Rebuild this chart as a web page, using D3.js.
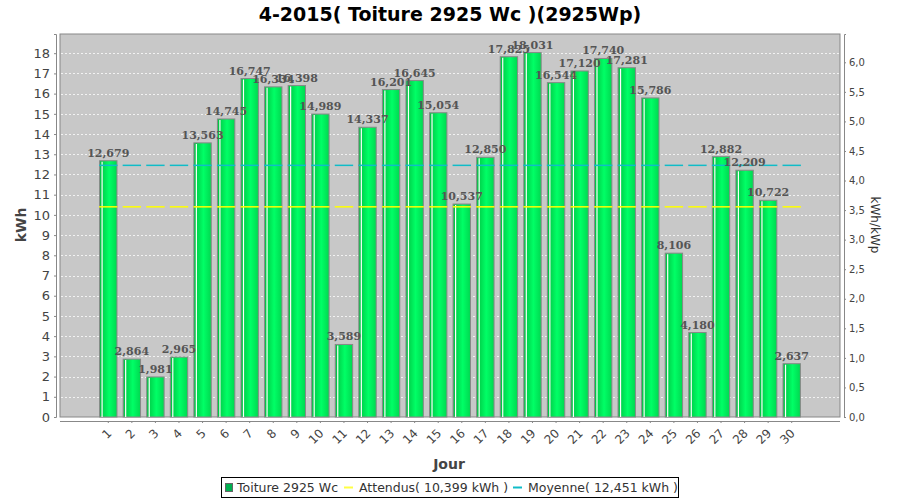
<!DOCTYPE html>
<html><head><meta charset="utf-8">
<script src="https://cdn.jsdelivr.net/npm/d3@7"></script>
<style>body{margin:0;background:#fff}svg{display:block}</style>
</head><body>
<svg id="c" width="900" height="500"></svg>
<script>
const days = d3.range(1, 31).map(String);
const energy = [12.679, 2.864, 1.981, 2.965, 13.563, 14.745, 16.747, 16.334, 16.398, 14.989,
  3.589, 14.337, 16.201, 16.645, 15.054, 10.537, 12.850, 17.825, 18.031, 16.544,
  17.120, 17.740, 17.281, 15.786, 8.106, 4.180, 12.882, 12.209, 10.722, 2.637];
const expected = 10.399;
const average = 12.451;
const peakKWp = 2.925;
const leftTicks = d3.range(0, 19);
const rightTicks = d3.range(0, 13).map(i => i * 0.5);
const title = "4-2015( Toiture 2925 Wc )(2925Wp)";
const legendLabels = ["Toiture 2925 Wc", "Attendus( 10,399 kWh )", "Moyenne( 12,451 kWh )"];

const svg = d3.select("#c");
const P = {l: 60, r: 840, t: 34, b: 417};
const yMax = 18.95;
const x = d3.scaleBand().domain(days).range([P.l + 36.5, P.r - 36.5]).paddingInner(0.22).paddingOuter(0.11);
const y = d3.scaleLinear().domain([0, yMax]).range([P.b, P.t]);
const y2 = d3.scaleLinear().domain([0, yMax / peakKWp]).range([P.b, P.t]);
const comma = f => v => f(v).replace(".", ",");

const defs = svg.append("defs");
const g = defs.append("linearGradient").attr("id", "bg").attr("x1", 0).attr("x2", 1).attr("y1", 0).attr("y2", 0);
g.append("stop").attr("offset", "0%").attr("stop-color", "#00c040");
g.append("stop").attr("offset", "55%").attr("stop-color", "#00ff66");
g.append("stop").attr("offset", "100%").attr("stop-color", "#00d850");

// title
svg.append("text").attr("x", 450).attr("y", 21).attr("text-anchor", "middle")
  .attr("font-family", "DejaVu Sans").attr("font-weight", "bold").attr("font-size", 19).text(title);

// plot background
svg.append("rect").attr("x", P.l).attr("y", P.t).attr("width", P.r - P.l).attr("height", P.b - P.t)
  .attr("fill", "#c8c8c8").attr("stroke", "#888").attr("stroke-width", 1);

// gridlines
svg.append("g").selectAll("line").data(leftTicks.filter(d => d > 0)).join("line")
  .attr("x1", P.l + 1).attr("x2", P.r - 1).attr("y1", d => Math.round(y(d)) + 0.5).attr("y2", d => Math.round(y(d)) + 0.5)
  .attr("stroke", "#f2f2f2").attr("stroke-dasharray", "2,2").attr("stroke-width", 1);

// bars
const bars = svg.append("g");
bars.selectAll("rect").data(energy).join("rect")
  .attr("x", (d, i) => x(days[i]) + 0.5).attr("y", d => y(d)).attr("width", x.bandwidth() - 1).attr("height", d => P.b - y(d))
  .attr("fill", "url(#bg)").attr("stroke", "#888").attr("stroke-width", 1);
bars.selectAll("line").data(energy).join("line")
  .attr("x1", (d, i) => x(days[i]) + 3).attr("x2", (d, i) => x(days[i]) + 3)
  .attr("y1", d => y(d) + 1).attr("y2", P.b)
  .attr("stroke", "#ffffff").attr("stroke-width", 1.2);

// reference line segments (per bar)
const refs = [[expected, "#ffff00"], [average, "#10bcc8"]];
refs.forEach(([v, col]) => {
  svg.append("g").selectAll("line").data(days).join("line")
    .attr("x1", d => x(d)).attr("x2", d => x(d) + x.bandwidth())
    .attr("y1", y(v)).attr("y2", y(v)).attr("stroke", col).attr("stroke-width", 1.5);
});

// value labels
svg.append("g").selectAll("text").data(energy).join("text")
  .attr("x", (d, i) => x(days[i]) + x.bandwidth() / 2).attr("y", d => y(d) - 4)
  .attr("text-anchor", "middle").attr("font-family", "DejaVu Serif").attr("font-weight", "bold")
  .attr("font-size", 11).attr("fill", "#555").text(d => comma(d3.format(".3f"))(d));

// left axis
const la = svg.append("g").attr("transform", `translate(${P.l - 4},0)`)
  .call(d3.axisLeft(y).tickValues(leftTicks).tickSize(2).tickPadding(4).tickFormat(d3.format("d")));
la.selectAll("text").attr("font-family", "DejaVu Sans").attr("font-size", 13).attr("fill", "#444");
la.selectAll("line,path").attr("stroke", "#888");

// right axis
const ra = svg.append("g").attr("transform", `translate(${P.r + 4},0)`)
  .call(d3.axisRight(y2).tickValues(rightTicks).tickSize(2).tickPadding(3).tickFormat(comma(d3.format(".1f"))));
ra.selectAll("text").attr("font-family", "DejaVu Sans").attr("font-size", 10).attr("fill", "#444");
ra.selectAll("line,path").attr("stroke", "#888");

// bottom axis
const ba = svg.append("g").attr("transform", `translate(0,${P.b + 4})`)
  .call(d3.axisBottom(x).tickSize(2).tickSizeOuter(0));
ba.select("path").attr("d", `M${P.l},0.5H${P.r}`);
ba.selectAll("line,path").attr("stroke", "#888");
ba.selectAll("text").attr("font-family", "DejaVu Sans").attr("font-size", 12).attr("fill", "#444")
  .attr("text-anchor", "end").attr("dy", null).attr("y", null)
  .attr("transform", "translate(4,13) rotate(-45)");

// legend
const lg = svg.append("g");
lg.append("rect").attr("x", 221.5).attr("y", 477.5).attr("width", 457).attr("height", 20)
  .attr("fill", "#fff").attr("stroke", "#000");
const items = [{x: 225, type: "box", col: "#00b050"}, {x: 344, type: "line", col: "#ffff44"}, {x: 513, type: "line", col: "#10bcc8"}];
items.forEach((it, i) => {
  if (it.type === "box") lg.append("rect").attr("x", it.x + 0.5).attr("y", 483.5).attr("width", 7).attr("height", 8).attr("fill", it.col).attr("stroke", "#666");
  else lg.append("line").attr("x1", it.x).attr("x2", it.x + 9).attr("y1", 487.5).attr("y2", 487.5).attr("stroke", it.col).attr("stroke-width", 2);
  lg.append("text").attr("x", it.x + (it.type === "box" ? 12 : 15)).attr("y", 492)
    .attr("font-family", "DejaVu Sans").attr("font-size", 12.5).attr("fill", "#333").text(legendLabels[i]);
});

// axis titles
svg.append("text").attr("transform", "translate(26,225) rotate(-90)").attr("text-anchor", "middle")
  .attr("font-family", "DejaVu Sans").attr("font-weight", "bold").attr("font-size", 14).attr("fill", "#444").text("kWh");
svg.append("text").attr("transform", "translate(871,225) rotate(90)").attr("text-anchor", "middle")
  .attr("font-family", "DejaVu Sans").attr("font-size", 12).attr("fill", "#333").text("kWh/kWp");
svg.append("text").attr("x", 449).attr("y", 469).attr("text-anchor", "middle")
  .attr("font-family", "DejaVu Sans").attr("font-weight", "bold").attr("font-size", 14).attr("fill", "#444").text("Jour");
</script>
</body></html>
